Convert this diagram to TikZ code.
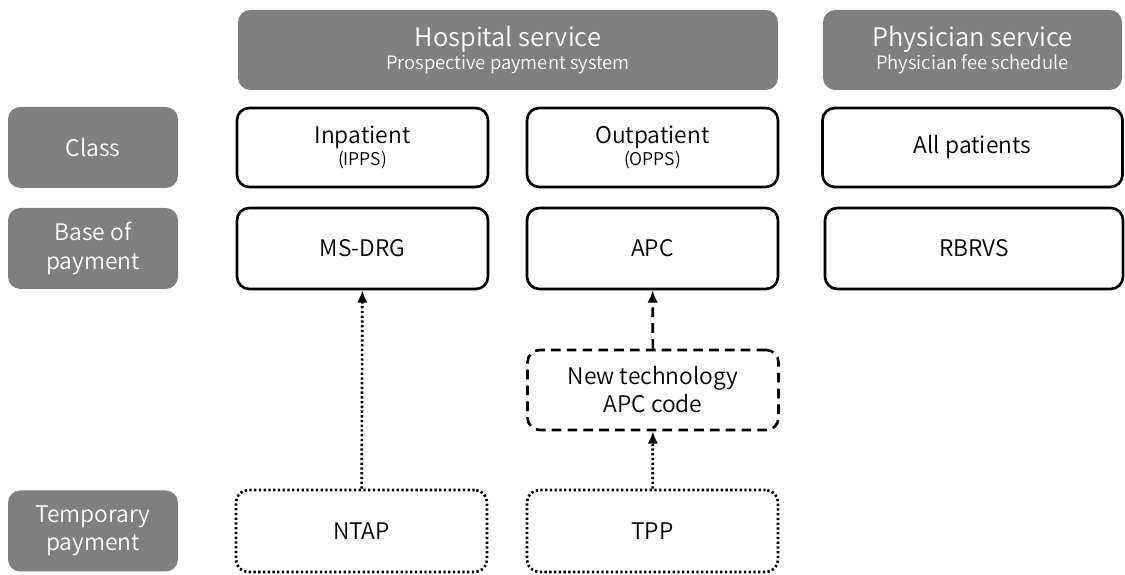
\documentclass[tikz,border=0pt]{standalone}
\usepackage{fontspec}
\setmainfont{Noto Sans CJK KR}[UprightFont={* DemiLight}]
\usetikzlibrary{arrows.meta}
\definecolor{headgray}{HTML}{7F7F7F}
\begin{document}
\begin{tikzpicture}[
  head node/.style={rectangle,rounded corners=7pt,fill=headgray,text=white,align=center,minimum height=1.6cm,inner sep=0pt},
  row node/.style={rectangle,rounded corners=7pt,fill=headgray,text=white,align=center,font=\fontsize{13}{16}\selectfont,minimum width=3.4cm,minimum height=1.62cm,inner sep=0pt},
  main node/.style={rectangle,rounded corners=7pt,draw,line width=1.5pt,align=center,font=\fontsize{13}{14}\selectfont,minimum width=5.02cm,minimum height=1.58cm,inner sep=0pt},
  dotline/.style={dash pattern=on 1.3pt off 1.4pt},
  dashline/.style={dash pattern=on 5.5pt off 3.5pt},
  arr/.style={line width=1.5pt,-{Latex[length=7pt,width=6pt]}}]

  \useasboundingbox (0,0) rectangle (22.5,11.5);

  \node[head node,minimum width=10.8cm] (hosp) at (10.16,10.5)
    {{\fontsize{14.5}{16}\selectfont Hospital service}\\[1pt]{\fontsize{10.5}{12}\selectfont Prospective payment system}};
  \node[head node,minimum width=5.98cm] (phys) at (19.45,10.5)
    {{\fontsize{14.5}{16}\selectfont Physician service}\\[1pt]{\fontsize{10.5}{12}\selectfont Physician fee schedule}};

  \node[row node] (class) at (1.86,8.55) {Class};
  \node[row node] (base) at (1.86,6.53) {Base of\\payment};
  \node[row node] (temp) at (1.86,0.88) {Temporary\\payment};

  \node[main node] (inp) at (7.25,8.55) {Inpatient\\[-1pt]{\fontsize{10}{11}\selectfont (IPPS)}};
  \node[main node] (outp) at (13.05,8.55) {Outpatient\\[-1pt]{\fontsize{10}{11}\selectfont (OPPS)}};
  \node[main node,minimum width=6cm] (allp) at (19.45,8.55) {All patients};

  \node[main node,minimum height=1.62cm] (msdrg) at (7.25,6.53) {MS-DRG};
  \node[main node,minimum height=1.62cm] (apc) at (13.05,6.53) {APC};
  \node[main node,minimum width=5.96cm,minimum height=1.62cm] (rbrvs) at (19.48,6.53) {RBRVS};

  \node[main node,dashline,minimum height=1.6cm,font=\fontsize{13}{16}\selectfont] (newtech) at (13.06,3.7) {New technology\\APC code};

  \node[main node,dotline,minimum height=1.64cm] (ntap) at (7.23,0.88) {NTAP};
  \node[main node,dotline,minimum height=1.64cm] (tpp) at (13.05,0.88) {TPP};

  \path
   (ntap) edge[arr,dotline] (msdrg)
   (tpp) edge[arr,dotline] (newtech)
   (newtech) edge[arr,dashline] (apc);
\end{tikzpicture}
\end{document}
